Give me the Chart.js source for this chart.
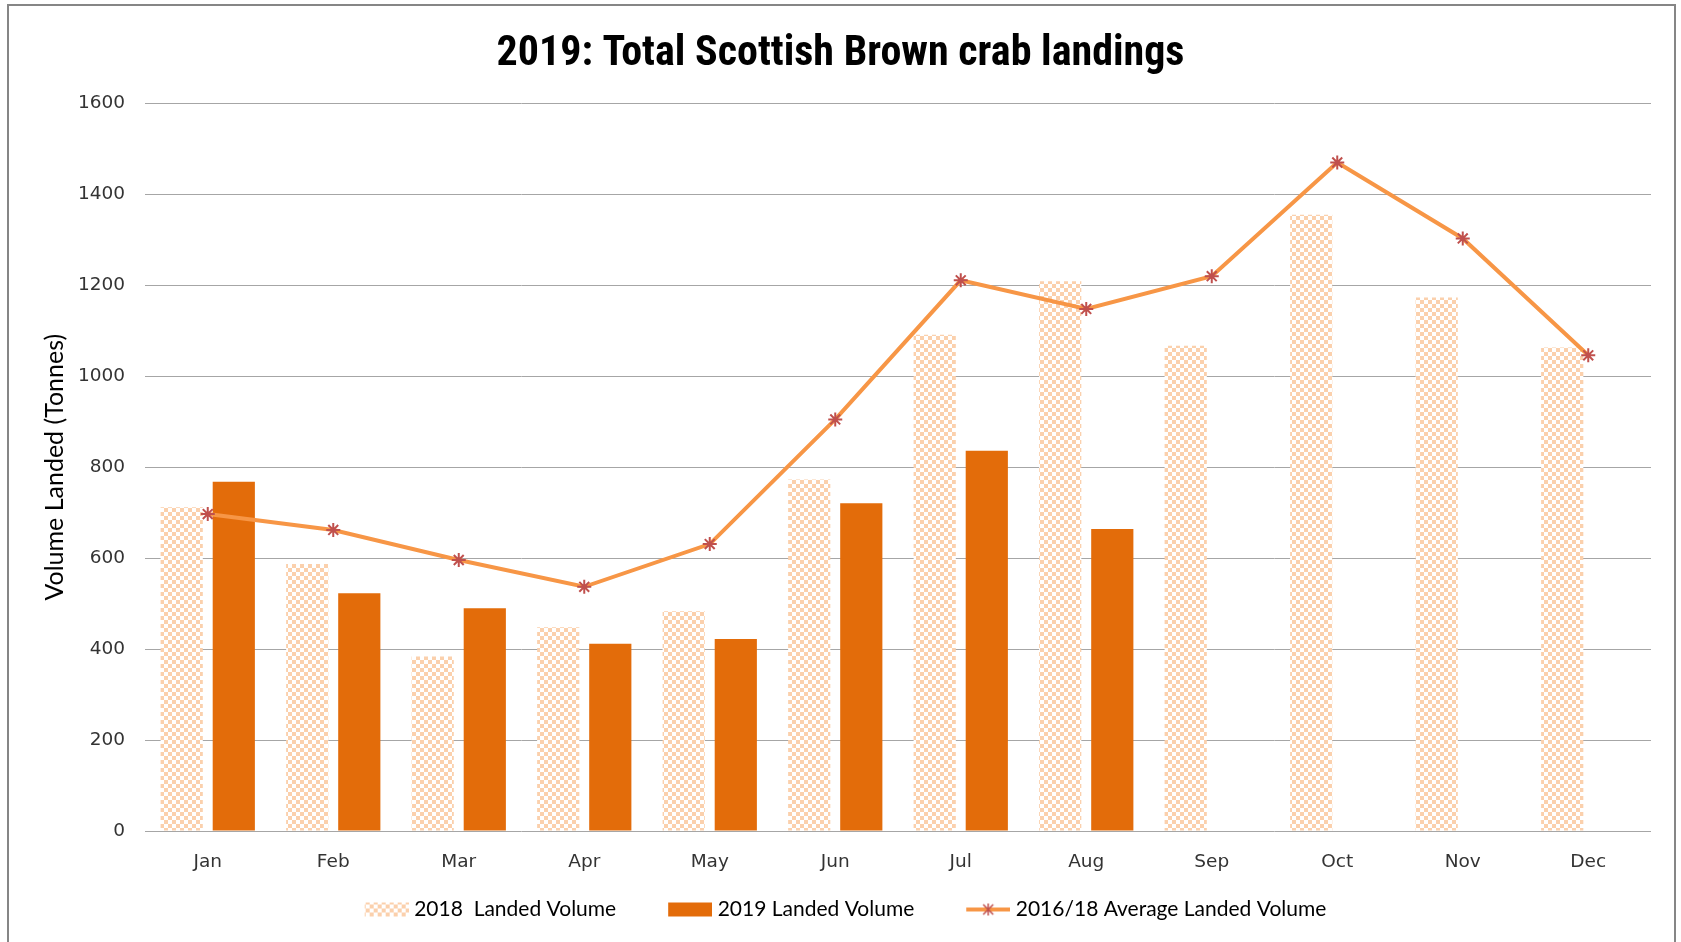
<!DOCTYPE html>
<html><head><meta charset="utf-8">
<script src="https://cdn.jsdelivr.net/npm/chart.js@4.4.1/dist/chart.umd.min.js"></script>
<style>html,body{margin:0;padding:0;background:#fff}canvas{display:block}</style>
</head><body>
<canvas id="c" width="1681" height="942"></canvas>
<script>
const months = ['Jan','Feb','Mar','Apr','May','Jun','Jul','Aug','Sep','Oct','Nov','Dec'];
const landed2018 = [712,587,384,448,483,773,1091,1209,1067,1355,1173,1063];
const landed2019 = [768,523,490,412,422,721,836,664,null,null,null,null];
const avg1618 = [697,662,596,537,631,905,1211,1148,1220,1470,1303,1046];
const yMin = 0, yMax = 1600, yStep = 200;
const seriesNames = ['2018  Landed Volume','2019 Landed Volume','2016/18 Average Landed Volume'];

const NARROW = "'Liberation Sans Narrow','Arial Narrow','Roboto Condensed',sans-serif";
const CAL = "Lato,'Open Sans',sans-serif";
const TICKFONT = "'DejaVu Sans',Verdana,sans-serif";
const C_PEACH = '#FBD0AC', C_2019 = '#E36C0A', C_LINE = '#F79646', C_MARK = '#C0504D';

const canvas = document.getElementById('c');
const ctx = canvas.getContext('2d');

function checkerCanvas(cell){
  const cv = document.createElement('canvas');
  cv.width = cv.height = cell*2;
  const g = cv.getContext('2d');
  g.fillStyle = '#FFFFFF'; g.fillRect(0,0,cell*2,cell*2);
  g.fillStyle = C_PEACH; g.fillRect(0,0,cell,cell); g.fillRect(cell,cell,cell,cell);
  return cv;
}
const pattern = ctx.createPattern(checkerCanvas(4),'repeat');

// legend icons
const ICON_W = 91, ICON_H = 18, VIS_W = 44;
function icon(drawFn){
  const cv = document.createElement('canvas');
  cv.width = ICON_W; cv.height = ICON_H;
  const g = cv.getContext('2d');
  drawFn(g, ICON_W - VIS_W, 0, VIS_W, ICON_H);
  return cv;
}
const icon2018 = icon((g,x,y,w,h)=>{ g.fillStyle = g.createPattern(checkerCanvas(4),'repeat'); g.fillRect(x,y+2,w,h-4); });
const icon2019 = icon((g,x,y,w,h)=>{ g.fillStyle = C_2019; g.fillRect(x,y+2,w,h-4); });
const iconAvg = icon((g,x,y,w,h)=>{
  g.strokeStyle = C_LINE; g.lineWidth = 4; g.beginPath(); g.moveTo(x,h/2); g.lineTo(x+w,h/2); g.stroke();
  const cx = x+w/2, cy = h/2, r = 5;
  g.strokeStyle = C_MARK; g.lineWidth = 1.5; g.beginPath();
  g.moveTo(cx-r,cy-r); g.lineTo(cx+r,cy+r); g.moveTo(cx+r,cy-r); g.lineTo(cx-r,cy+r);
  g.moveTo(cx,cy-r-1); g.lineTo(cx,cy+r+1); g.stroke();
});

const framePlugin = {
  id: 'frame',
  beforeDraw(chart){
    const c = chart.ctx;
    c.save();
    c.fillStyle = '#fff'; c.fillRect(0,0,chart.width,chart.height);
    c.strokeStyle = '#868686'; c.lineWidth = 2;
    c.strokeRect(8,5,1667,1000);
    c.restore();
  },
  afterLayout(chart){
    // compensate the blank lead-in of the first legend icon
    if (chart.legend) { chart.legend.left -= 16; chart.legend.right -= 16; }
  }
};

new Chart(ctx, {
  data: {
    labels: months,
    datasets: [
      { type:'line', label: seriesNames[2], data: avg1618, order: 0,
        borderColor: C_LINE, borderWidth: 4, tension: 0,
        pointStyle: 'star', pointRadius: 7, pointBorderWidth: 2,
        pointBorderColor: C_MARK, pointBackgroundColor: C_MARK },
      { type:'bar', label: seriesNames[0], data: landed2018, order: 1,
        backgroundColor: pattern, borderWidth: 0,
        categoryPercentage: 0.83, barPercentage: 0.81 },
      { type:'bar', label: seriesNames[1], data: landed2019, order: 1,
        backgroundColor: C_2019, borderWidth: 0,
        categoryPercentage: 0.83, barPercentage: 0.81 }
    ]
  },
  options: {
    responsive: false,
    animation: false,
    layout: { padding: { left: 30, right: 30, top: 0, bottom: 12 } },
    plugins: {
      tooltip: { enabled: false },
      title: {
        display: true,
        text: '2019: Total Scottish Brown crab landings',
        color: '#000',
        font: { family: NARROW, size: 42, weight: 'bold' },
        padding: { top: 29, bottom: 24 }
      },
      legend: {
        display: true,
        position: 'bottom',
        labels: {
          color: '#111',
          font: { family: CAL, size: 21 },
          usePointStyle: true,
          pointStyleWidth: 81,
          boxHeight: 18,
          padding: 10,
          generateLabels(){
            return [
              { text: seriesNames[0], pointStyle: icon2018, fillStyle:'rgba(0,0,0,0)', strokeStyle:'rgba(0,0,0,0)', lineWidth:0, hidden:false, datasetIndex:1 },
              { text: seriesNames[1], pointStyle: icon2019, fillStyle:'rgba(0,0,0,0)', strokeStyle:'rgba(0,0,0,0)', lineWidth:0, hidden:false, datasetIndex:2 },
              { text: seriesNames[2], pointStyle: iconAvg, fillStyle:'rgba(0,0,0,0)', strokeStyle:'rgba(0,0,0,0)', lineWidth:0, hidden:false, datasetIndex:0 }
            ];
          }
        }
      }
    },
    scales: {
      x: {
        type: 'category',
        grid: { display: false },
        border: { display: false },
        ticks: { color: '#333', font: { family: TICKFONT, size: 18.5 }, padding: 12, maxRotation: 0 },
        afterFit(s){ s.height = 58; }
      },
      y: {
        min: yMin, max: yMax,
        border: { display: false },
        grid: { color: '#A6A6A6', lineWidth: 1, drawTicks: false },
        ticks: { stepSize: yStep, color: '#333', font: { family: TICKFONT, size: 18.5 }, padding: 20,
                 callback: v => String(v) },
        title: { display: true, text: 'Volume Landed (Tonnes)', color: '#000',
                 font: { family: CAL, size: 25 }, padding: { top: 10, bottom: 0 } },
        afterFit(s){ s.width = 115; }
      }
    }
  },
  plugins: [framePlugin]
});
</script>
</body></html>
